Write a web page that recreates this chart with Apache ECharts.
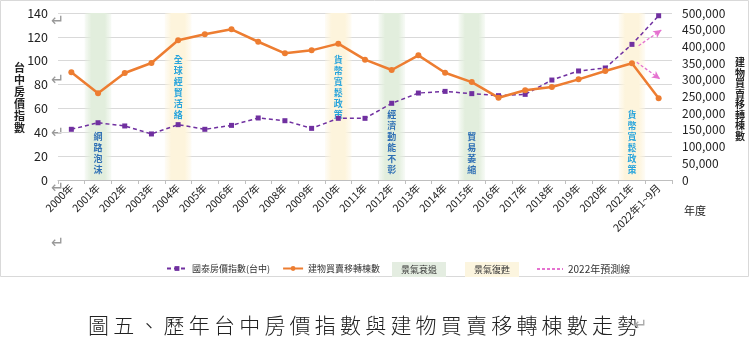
<!DOCTYPE html>
<html>
<head>
<meta charset="utf-8">
<script src="https://cdn.jsdelivr.net/npm/echarts@6/dist/echarts.min.js"></script>
<style>html,body{margin:0;padding:0;background:#fff}#c{width:750px;height:351px}</style>
</head>
<body>
<div id="c"></div>
<script>
const categories = ['2000年','2001年','2002年','2003年','2004年','2005年','2006年','2007年','2008年','2009年','2010年','2011年','2012年','2013年','2014年','2015年','2016年','2017年','2018年','2019年','2020年','2021年','2022年1~9月'];
const priceIndex = [42.5,48,45.3,38.6,46.4,42.5,45.8,52,49.7,43.3,51.7,51.7,64.3,72.9,74.3,72.4,70.7,71.8,83.8,91.4,93.9,113.7,137.7];
const transfers = [322500,259600,320400,350400,418200,436100,451100,413900,379300,388200,408200,360400,329300,373200,321100,293200,246400,268600,278600,301400,326400,349600,244600];
const leftTicks = [0,140,20];
const rightTicks = [0,500000,50000];
const bands = [
  {year:'2001年', kind:'景氣衰退', text:'網路泡沫', pos:'bottom'},
  {year:'2004年', kind:'景氣復甦', text:'全球經貿活絡', pos:'top'},
  {year:'2010年', kind:'景氣復甦', text:'貨幣寬鬆政策', pos:'top'},
  {year:'2012年', kind:'景氣衰退', text:'經濟動能不彰', pos:'bottom'},
  {year:'2015年', kind:'景氣衰退', text:'貿易萎縮', pos:'bottom'},
  {year:'2021年', kind:'景氣復甦', text:'貨幣寬鬆政策', pos:'bottom'}
];
// 2022 forecast arrows: [startIndex, startValue] -> [endIndex, endValue] (left-axis units)
const forecastUp = [[21.25,112.6],[22.1,125.7]];
const forecastDown = [[21.18,98.7],[22.05,84.7]];

const NARROW = '"Liberation Sans Narrow","Noto Sans CJK TC",sans-serif';
const CJK = '"Noto Sans CJK TC","Noto Sans",sans-serif';
const PURPLE = '#7030a0', ORANGE = '#ed7d31', PINK = '#e572d0';
const GREEN_TXT = '#2e6fb4', YELLOW_TXT = '#27a4dc';

function bandGradient(rgb){
  return {type:'linear',x:0,y:0,x2:1,y2:0,colorStops:[
    {offset:0,color:'rgba('+rgb+',0.25)'},{offset:0.25,color:'rgba('+rgb+',1)'},
    {offset:0.75,color:'rgba('+rgb+',1)'},{offset:1,color:'rgba('+rgb+',0.25)'}]};
}
function bandData(kind){
  return bands.filter(b=>b.kind===kind).map(b=>{
    const i = categories.indexOf(b.year);
    return [{
      xAxis:i-0.5, yAxis:leftTicks[1],
      label:{show:true, position: b.pos==='top'?'insideTop':'insideBottom',
        distance: b.pos==='top'?41:5,
        formatter: b.text.split('').join('\n'),
        color: kind==='景氣衰退'?GREEN_TXT:YELLOW_TXT,
        fontSize:9, fontWeight:'bold', lineHeight:11, fontFamily:CJK}
    },{xAxis:i+0.5, yAxis:leftTicks[0]}];
  });
}

const chart = echarts.init(document.getElementById('c'), null, {renderer:'canvas'});
chart.setOption({
  animation:false,
  grid:{left:58,right:78,top:13,bottom:171},
  xAxis:[{
    type:'category', data:categories, boundaryGap:true,
    axisLine:{lineStyle:{color:'#bfbfbf'}},
    axisTick:{show:true,length:4,lineStyle:{color:'#bfbfbf'}},
    axisLabel:{rotate:45,interval:0,fontSize:10.5,color:'#222',fontFamily:NARROW,margin:6}
  },{
    type:'value', min:-0.5, max:22.5, show:false
  }],
  yAxis:[{
    type:'value', min:leftTicks[0], max:leftTicks[1], interval:leftTicks[2],
    axisLine:{show:false}, axisTick:{show:false},
    splitLine:{lineStyle:{color:'#d9d9d9'}},
    axisLabel:{fontSize:12.5,color:'#222',fontFamily:NARROW,margin:10}
  },{
    type:'value', min:rightTicks[0], max:rightTicks[1], interval:rightTicks[2],
    axisLine:{show:false}, axisTick:{show:false}, splitLine:{show:false},
    axisLabel:{fontSize:12,color:'#222',fontFamily:NARROW,margin:10,
      formatter:v=>v.toLocaleString('en-US')}
  }],
  legend:[{
    left:161, top:259, itemWidth:20, itemHeight:6, itemGap:12,
    textStyle:{fontSize:9,color:'#333',fontFamily:CJK},
    data:['國泰房價指數(台中)','建物買賣移轉棟數']
  },{
    left:382, top:257, itemWidth:0, itemGap:14, icon:'none',
    textStyle:{fontSize:9,color:'#333',fontFamily:CJK},
    data:[{name:'景氣衰退',textStyle:{backgroundColor:'#e4ede1',padding:[3,9]}},
          {name:'景氣復甦',textStyle:{backgroundColor:'#fcf5df',padding:[3,9]}}]
  },{
    left:531, top:259, itemWidth:26, itemHeight:6,
    textStyle:{fontSize:10,color:'#333',fontFamily:CJK},
    data:[{name:'2022年預測線', itemStyle:{opacity:0}}]
  }],
  series:[{
    name:'景氣衰退', type:'scatter', xAxisIndex:1, yAxisIndex:0, data:[], z:0,
    itemStyle:{color:'#e4ede1'},
    markArea:{silent:true, itemStyle:{color:bandGradient('226,238,221')}, data:bandData('景氣衰退')}
  },{
    name:'景氣復甦', type:'scatter', xAxisIndex:1, yAxisIndex:0, data:[], z:0,
    itemStyle:{color:'#fcf5df'},
    markArea:{silent:true, itemStyle:{color:bandGradient('253,244,220')}, data:bandData('景氣復甦')}
  },{
    name:'國泰房價指數(台中)', type:'line', xAxisIndex:0, yAxisIndex:0, data:priceIndex,
    symbol:'rect', symbolSize:5, color:PURPLE, z:3,
    lineStyle:{color:PURPLE,width:1.5,type:[4,3]}, itemStyle:{color:PURPLE}
  },{
    name:'建物買賣移轉棟數', type:'line', xAxisIndex:0, yAxisIndex:1, data:transfers,
    symbol:'circle', symbolSize:6, color:ORANGE, z:4,
    lineStyle:{color:ORANGE,width:2.5}, itemStyle:{color:ORANGE}
  },{
    name:'2022年預測線', type:'line', xAxisIndex:1, yAxisIndex:0, data:[], symbol:'none', color:PINK,
    lineStyle:{color:PINK,width:1.2,type:[3,2]},
    markLine:{silent:true, symbol:['none','arrow'], symbolSize:[6,8],
      lineStyle:{color:PINK,width:1.3,type:[3,2]}, label:{show:false},
      data:[[{coord:forecastUp[0]},{coord:forecastUp[1]}],[{coord:forecastDown[0]},{coord:forecastDown[1]}]]}
  }],
  graphic:[
    {type:'rect', shape:{x:0.5,y:0.5,width:748,height:276}, style:{fill:'none',stroke:'#d9d9d9',lineWidth:1}, silent:true, z:-10},
    {type:'text', left:14, top:62, style:{text:'台\n中\n房\n價\n指\n數', font:'bold 11px "Noto Sans CJK TC"', lineHeight:12, fill:'#222'}},
    {type:'text', left:735, top:57, style:{text:'建\n物\n買\n賣\n移\n轉\n棟\n數', font:'bold 10px "Noto Sans CJK TC"', lineHeight:10.5, fill:'#222'}},
    {type:'text', left:684, top:205, style:{text:'年度', font:'11px "Noto Sans CJK TC"', fill:'#222'}},
    {type:'text', left:88, top:315, style:{text:'圖五、歷年台中房價指數與建物買賣移轉棟數走勢'.split('').join('\u2009'), font:'300 21px "Noto Sans CJK TC"', fill:'#222'}},
    {type:'text', left:634, top:318, style:{text:'↵', font:'16px "DejaVu Sans"', fill:'#aaa'}},
    ...[14,73,126,181,236].map(y=>({type:'text', left:51, top:y, style:{text:'↵', font:'16px "DejaVu Sans"', fill:'#999'}}))
  ]
});
</script>
</body>
</html>
